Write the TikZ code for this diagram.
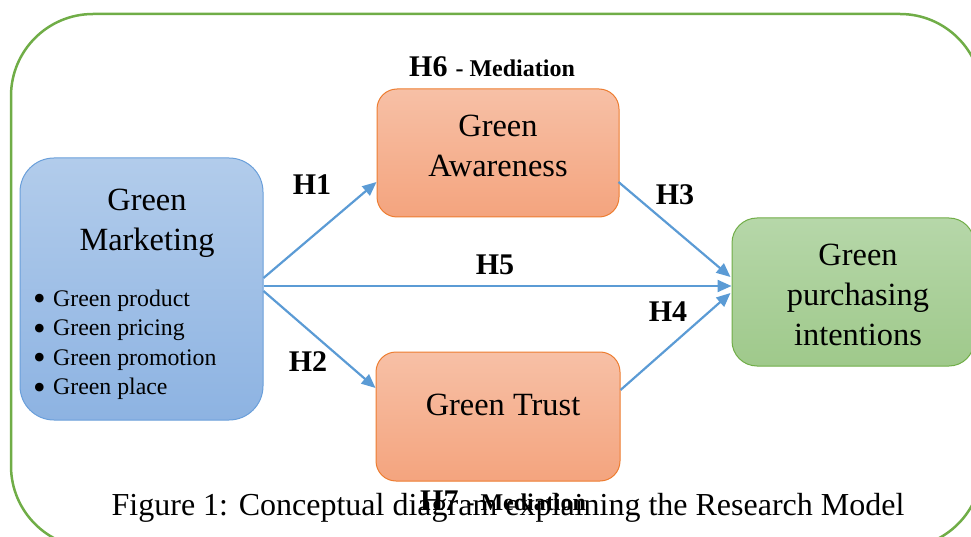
\documentclass[tikz,border=0pt]{standalone}
\usepackage{fontspec}
\setmainfont{Liberation Serif}
\usetikzlibrary{arrows.meta}
\definecolor{framegreen}{HTML}{70AD47}
\definecolor{arrowblue}{HTML}{5B9BD5}
\definecolor{bluetop}{HTML}{B2CCEB}
\definecolor{bluebot}{HTML}{8DB3E2}
\definecolor{blueline}{HTML}{6A9FDA}
\definecolor{orangetop}{HTML}{F7C0A6}
\definecolor{orangebot}{HTML}{F4A47E}
\definecolor{orangeline}{HTML}{ED7D31}
\definecolor{greentop}{HTML}{B6D7A9}
\definecolor{greenbot}{HTML}{9FC98B}
\definecolor{greenline}{HTML}{70AD47}
\tikzset{
  boxbase/.style={rectangle, line width=1pt, inner sep=0pt},
  bluebox/.style={boxbase, rounded corners=34pt, draw=blueline, top color=bluetop, bottom color=bluebot},
  orangebox/.style={boxbase, rounded corners=20pt, draw=orangeline, top color=orangetop, bottom color=orangebot},
  greenbox/.style={boxbase, rounded corners=25pt, draw=greenline, top color=greentop, bottom color=greenbot},
  bigtext/.style={inner sep=0pt, align=center, font=\fontsize{32.4}{40}\selectfont},
  bullettext/.style={inner sep=0pt, anchor=base west, font=\fontsize{23.8}{29.5}\selectfont},
  hlabel/.style={inner sep=0pt, font=\fontsize{30}{30}\selectfont\bfseries},
  conn/.style={draw=arrowblue, line width=2.2pt, -{Triangle[length=14pt,width=12pt]}},
}
\newcommand{\bulletitem}[1]{\makebox[20pt][l]{\smash{\raisebox{-4.5pt}{\fontsize{36}{36}\selectfont\textbullet}}}#1}
\begin{document}
\begin{tikzpicture}[x=1pt,y=-1pt]
\useasboundingbox (0,0) rectangle (971,537);
\clip (0,0) rectangle (971,537);
% outer frame
\draw[framegreen, line width=2.5pt, rounded corners=82pt] (11,14) rectangle (982,548);
% boxes
\node[bluebox, minimum width=243pt, minimum height=262pt] (gm) at (141.5,289) {};
\node[orangebox, minimum width=242pt, minimum height=128pt] (ga) at (498,153) {};
\node[orangebox, minimum width=244pt, minimum height=129pt] (gt) at (498,416.5) {};
\node[greenbox, minimum width=242pt, minimum height=148pt] (gp) at (853,292) {};
% box texts
\node[bigtext, anchor=base] (gmt) at (147,251) {Green\\Marketing};
\node[bullettext] (b1) at (33,306) {\bulletitem{Green product}};
\node[bullettext] (b2) at (33,335.5) {\bulletitem{Green pricing}};
\node[bullettext] (b3) at (33,365) {\bulletitem{Green promotion}};
\node[bullettext] (b4) at (33,394.5) {\bulletitem{Green place}};
\node[bigtext, anchor=base] (gat) at (498,177) {Green\\Awareness};
\node[bigtext, anchor=base] (gtt) at (503,415) {Green Trust};
\node[bigtext, anchor=base] (gpt) at (858,345) {Green\\purchasing\\intentions};
% connectors
\draw[conn] ([yshift=11pt]gm.east) -- ([yshift=-29pt]ga.west);
\draw[conn] ([yshift=3pt]gm.east) -- ([yshift=6pt]gp.west);
\draw[conn] ([yshift=-2pt]gm.east) -- ([yshift=28.5pt]gt.west);
\draw[conn] ([yshift=-29pt,xshift=-1pt]ga.east) -- ([yshift=15pt,xshift=-1pt]gp.west);
\draw[conn] ([yshift=26.5pt]gt.east) -- ([yshift=-1pt,xshift=-1pt]gp.west);
% labels
\node[hlabel] (h1) at (312,185) {H1};
\node[hlabel] (h2) at (308,362) {H2};
\node[hlabel] (h3) at (675,195) {H3};
\node[hlabel] (h4) at (668,312) {H4};
\node[hlabel] (h5) at (495,265) {H5};
\node[inner sep=0pt, anchor=base west, font=\bfseries] (h6) at (409,77) {{\fontsize{30}{30}\selectfont H6}\hspace{8pt}{\fontsize{24}{24}\selectfont - Mediation}};
% caption
\node[inner sep=0pt, anchor=base, font=\fontsize{32}{32}\selectfont] (cap) at (508,515) {Figure 1: Conceptual diagram explaining the Research Model};
\node[inner sep=0pt, anchor=base west, font=\bfseries] (h7) at (420,510) {{\fontsize{30}{30}\selectfont H7}\hspace{8pt}{\fontsize{24}{24}\selectfont - Mediation}};
\end{tikzpicture}
\end{document}
